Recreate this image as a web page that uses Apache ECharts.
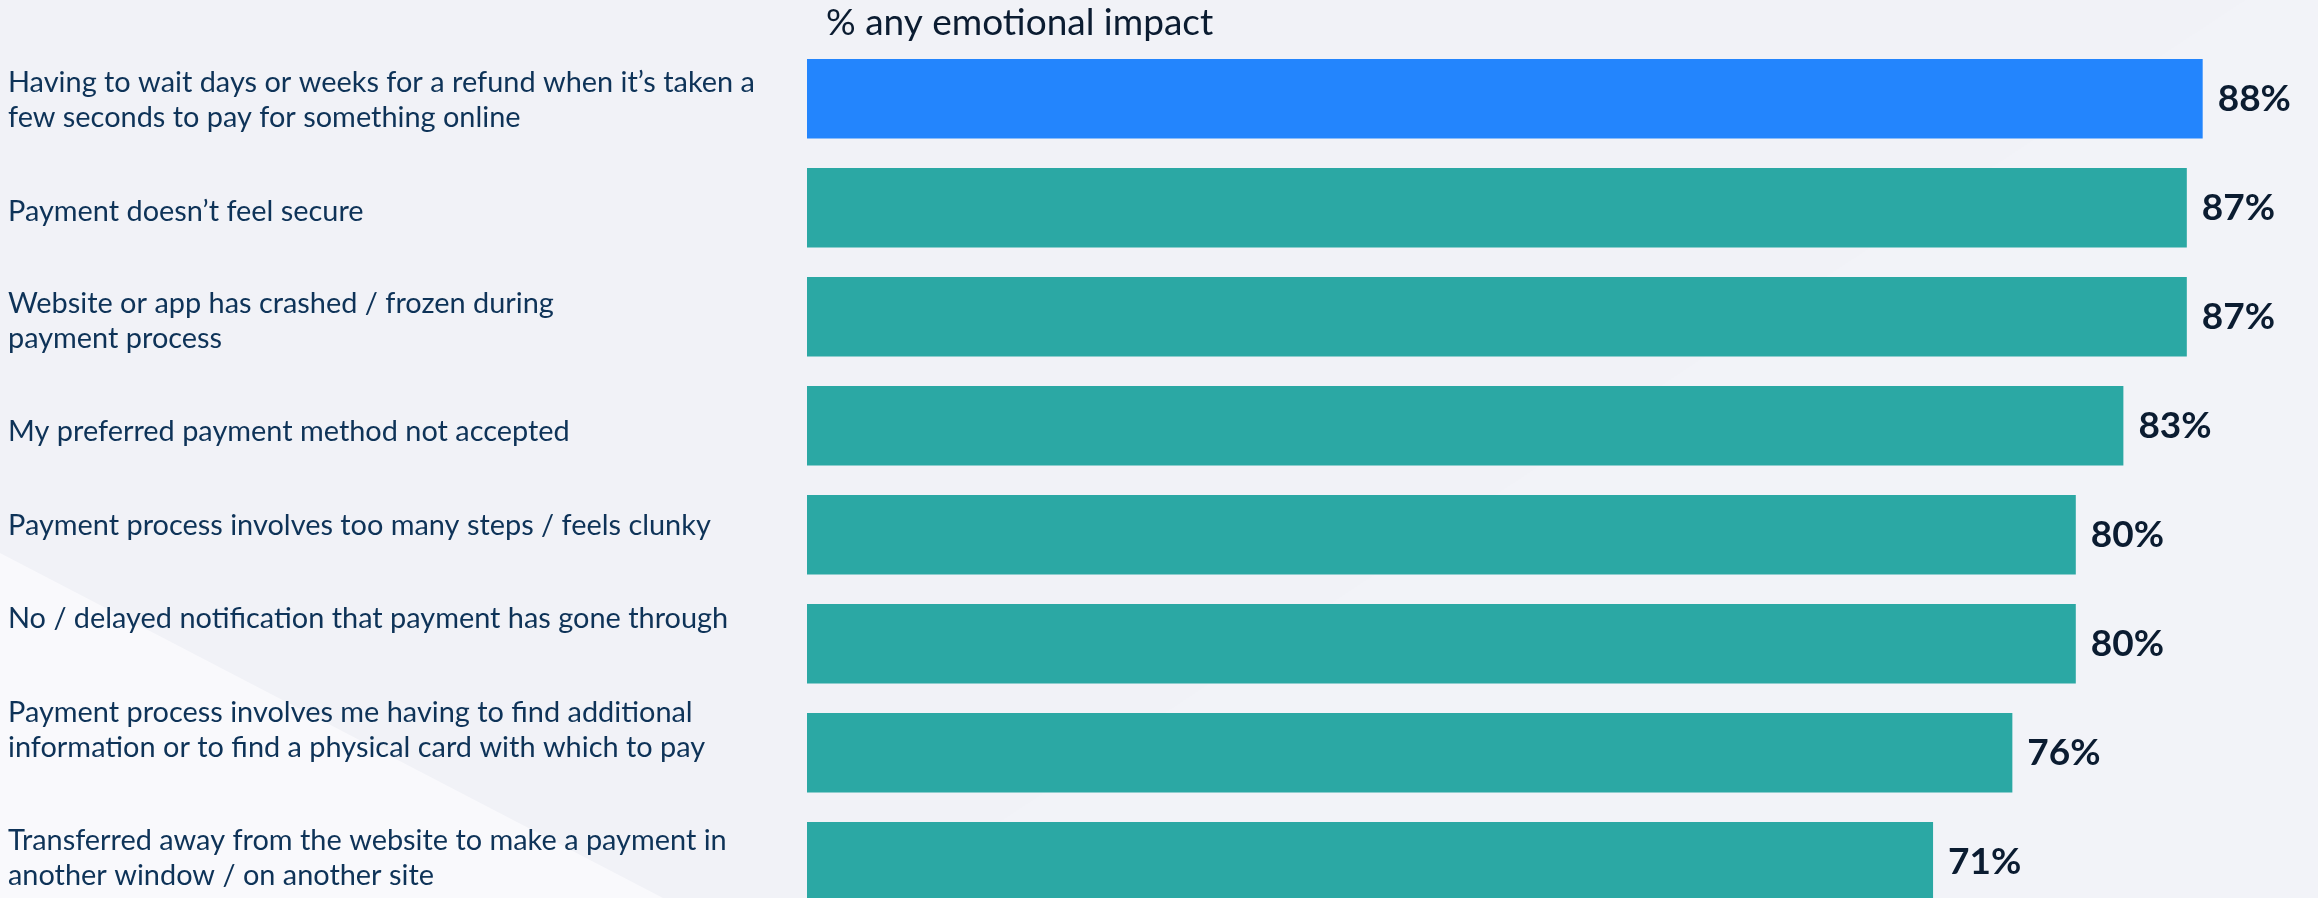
<!DOCTYPE html>
<html>
<head>
<meta charset="utf-8">
<title>% any emotional impact</title>
<script src="https://cdn.jsdelivr.net/npm/echarts@6/dist/echarts.min.js"></script>
<style>
  html, body { margin: 0; padding: 0; background: #F1F2F7; }
  #chart { width: 2318px; height: 898px; }
</style>
</head>
<body>
<div id="chart"></div>
<script>
// Payment frustrations, share of respondents reporting any emotional impact
const categories = [
  'Having to wait days or weeks for a refund when it\u2019s taken a\nfew seconds to pay for something online',
  'Payment doesn\u2019t feel secure',
  'Website or app has crashed / frozen during\npayment process',
  'My preferred payment method not accepted',
  'Payment process involves too many steps / feels clunky',
  'No / delayed notification that payment has gone through',
  'Payment process involves me having to find additional\ninformation or to find a physical card with which to pay',
  'Transferred away from the website to make a payment in\nanother window / on another site'
];
const values = [88, 87, 87, 83, 80, 80, 76, 71];
const chartTitle = '% any emotional impact';

// vertical nudge (px) of each category caption relative to its bar centre
const captionNudge = [1, 4, 4, 6, -9, -25, -23, -4];

const TEAL = '#2BA8A4';
const BLUE = '#2385FD';
const NAVY = '#0E3358';
const INK = '#0B1C31';
const FONT = 'Lato, "Open Sans", sans-serif';
const GRID_LEFT = 807;
const CAPTION_X = 8;

const chart = echarts.init(document.getElementById('chart'), null, { renderer: 'canvas' });

chart.setOption({
  backgroundColor: '#F1F2F7',
  animation: false,
  title: {
    text: chartTitle,
    left: 821,
    top: 0,
    textStyle: { fontFamily: FONT, fontSize: 37, fontWeight: 'normal', color: INK }
  },
  graphic: [
    {
      // pale wedge lower left
      type: 'polygon', z: -10, silent: true,
      shape: { points: [[0, 553], [663, 898], [0, 898]] },
      style: { fill: '#F9F9FC' }
    },
    {
      // faint tint on the right-hand side
      type: 'polygon', z: -11, silent: true,
      shape: { points: [[2245, 0], [2318, 0], [2318, 898], [884, 898]] },
      style: { fill: '#F2F3F8' }
    }
  ],
  grid: {
    left: GRID_LEFT, top: 44.25, width: 1586, height: 872,
    containLabel: false,
    outerBoundsMode: 'none'
  },
  xAxis: {
    type: 'value', min: 0, max: 100,
    show: false
  },
  yAxis: {
    type: 'category',
    inverse: true,
    data: categories,
    axisLine: { show: false },
    axisTick: { show: false },
    splitLine: { show: false },
    axisLabel: { show: false }
  },
  series: [
    {
      type: 'bar',
      barWidth: 79.5,
      data: values.map((v, i) => ({
        value: v,
        itemStyle: { color: i === 0 ? BLUE : TEAL }
      })),
      label: {
        show: true,
        position: 'right',
        distance: 15,
        formatter: p => p.value + '%',
        fontFamily: FONT,
        fontSize: 37,
        fontWeight: 'bold',
        color: INK
      }
    },
    {
      // category captions, anchored at each category's axis position
      type: 'scatter',
      symbolSize: 0,
      silent: true,
      clip: false,
      itemStyle: { color: 'transparent', opacity: 1 },
      data: categories.map((c, i) => ({
        value: [0, i],
        label: { offset: [0, captionNudge[i]] }
      })),
      label: {
        show: true,
        opacity: 1,
        position: [CAPTION_X - GRID_LEFT, 0],
        align: 'left',
        verticalAlign: 'middle',
        formatter: p => categories[p.dataIndex],
        fontFamily: FONT,
        fontSize: 28.9,
        lineHeight: 35,
        color: NAVY
      }
    }
  ]
});
</script>
</body>
</html>
